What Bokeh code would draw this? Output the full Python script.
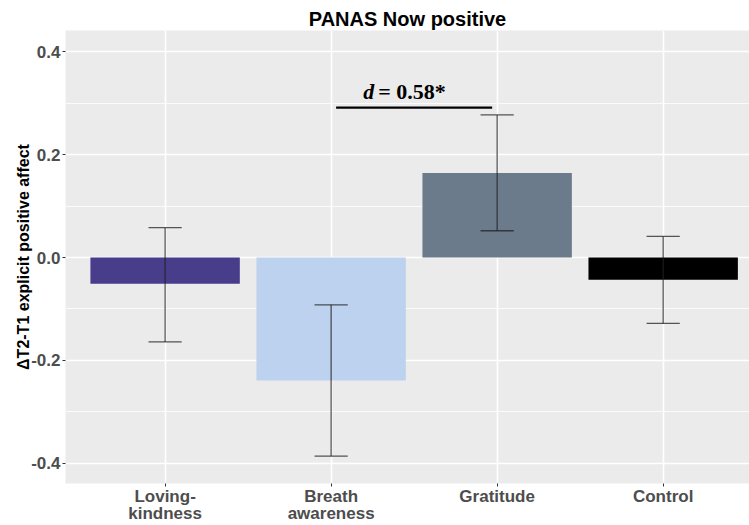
from bokeh.plotting import figure
from bokeh.models import FixedTicker, Range1d
from bokeh.core.properties import value
from bokeh.embed import file_html
from bokeh.resources import INLINE

# ---- data ----
categories = ["Loving-kindness", "Breath awareness", "Gratitude", "Control"]
tick_labels = ["Loving-\nkindness", "Breath\nawareness", "Gratitude", "Control"]
means = [-0.051, -0.239, 0.164, -0.043]
err_low = [-0.164, -0.386, 0.052, -0.128]
err_high = [0.058, -0.092, 0.277, 0.041]
bar_colors = ["#483D8B", "#BDD2EE", "#6C7B8B", "#000000"]
y_ticks = [-0.4, -0.2, 0.0, 0.2, 0.4]
y_tick_labels = ["-0.4", "-0.2", "0.0", "0.2", "0.4"]
y_minor = [-0.3, -0.1, 0.1, 0.3]
# significance annotation between Breath awareness and Gratitude
sig_x0, sig_x1, sig_y = 2.03, 2.97, 0.291
sig_text_x, sig_text_y = 2.194, 0.322

xs = list(range(1, len(categories) + 1))

p = figure(width=749, height=525, output_backend="svg", toolbar_location=None,
           x_range=Range1d(0.4, 4.52), y_range=Range1d(-0.439, 0.441),
           title="PANAS Now positive",
           min_border_left=65, min_border_right=0, min_border_top=30, min_border_bottom=0)

p.background_fill_color = "#EBEBEB"
p.border_fill_color = "white"
p.outline_line_color = None

p.title.text_font = "Liberation Sans"
p.title.text_font_style = "bold"
p.title.text_font_size = "20px"
p.title.text_color = "black"
p.title.align = "center"
p.title.standoff = 2

# bars
p.vbar(x=xs, width=0.9, top=means, bottom=0, fill_color=bar_colors, line_color=None)

# error bars
cap = 0.1
p.segment(x0=xs, y0=err_low, x1=xs, y1=err_high, line_color="#222222", line_alpha=0.75, line_width=1.3)
p.segment(x0=[x - cap for x in xs], y0=err_low, x1=[x + cap for x in xs], y1=err_low,
          line_color="#222222", line_alpha=0.75, line_width=1.3)
p.segment(x0=[x - cap for x in xs], y0=err_high, x1=[x + cap for x in xs], y1=err_high,
          line_color="#222222", line_alpha=0.75, line_width=1.3)

# significance annotation
p.segment(x0=[sig_x0], y0=[sig_y], x1=[sig_x1], y1=[sig_y], line_color="black", line_width=2.2)
p.text(x=[sig_text_x], y=[sig_text_y], text=["d"], text_font=value("Liberation Serif"),
       text_font_style="bold italic", text_font_size="22px", text_align="left",
       text_baseline="alphabetic", text_color="black")
p.text(x=[sig_text_x], y=[sig_text_y], text=["= 0.58*"], x_offset=15, text_font=value("Liberation Serif"),
       text_font_style="bold", text_font_size="22px", text_align="left",
       text_baseline="alphabetic", text_color="black")

# axes
p.xaxis.ticker = FixedTicker(ticks=xs)
p.xaxis.major_label_overrides = {x: lab for x, lab in zip(xs, tick_labels)}
p.yaxis.ticker = FixedTicker(ticks=y_ticks, minor_ticks=y_minor)
p.yaxis.major_label_overrides = {t: lab for t, lab in zip(y_ticks, y_tick_labels)}
p.yaxis.axis_label = "\u0394T2-T1 explicit positive affect"

for ax in (p.xaxis[0], p.yaxis[0]):
    ax.axis_line_color = None
    ax.major_tick_line_color = "#333333"
    ax.major_tick_in = 0
    ax.major_tick_out = 3
    ax.minor_tick_line_color = None
    ax.major_label_text_font = "Liberation Sans"
    ax.major_label_text_font_style = "bold"
    ax.major_label_text_font_size = "17px"
    ax.major_label_text_color = "#4D4D4D"

p.yaxis.major_label_standoff = 1
p.xaxis.major_label_text_line_height = 0.92
p.xaxis.major_label_standoff = 0
p.yaxis.axis_label_text_font = "Liberation Sans"
p.yaxis.axis_label_text_font_style = "bold"
p.yaxis.axis_label_text_font_size = "16px"
p.yaxis.axis_label_text_color = "black"
p.yaxis.axis_label_standoff = -4

p.xgrid.grid_line_color = "white"
p.xgrid.grid_line_width = 1.6
p.ygrid.grid_line_color = "white"
p.ygrid.grid_line_width = 1.6
p.ygrid.minor_grid_line_color = "white"
p.ygrid.minor_grid_line_width = 0.8

open("out.html", "w").write(file_html(p, INLINE))
